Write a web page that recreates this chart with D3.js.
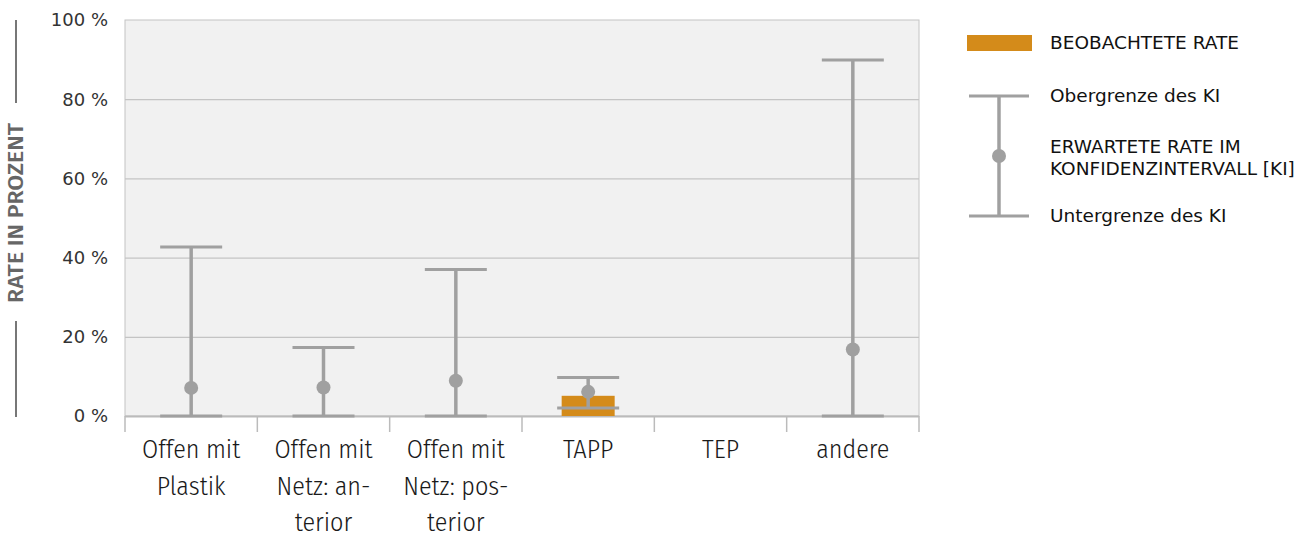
<!DOCTYPE html>
<html><head><meta charset="utf-8">
<script src="https://cdn.jsdelivr.net/npm/d3@7"></script>
<style>body{margin:0;background:#fff}svg{display:block}</style>
</head><body><svg id="c" width="1311" height="537"></svg>
<script>
const categories = [["Offen mit","Plastik"],["Offen mit","Netz: an-","terior"],["Offen mit","Netz: pos-","terior"],["TAPP"],["TEP"],["andere"]];
const categoryKeys = ["Offen mit Plastik","Offen mit Netz: anterior","Offen mit Netz: posterior","TAPP","TEP","andere"];
const observed = [null, null, null, 5.1, null, null];
const expected = [7.1, 7.2, 8.9, 6.1, null, 16.8];
const lowerCI = [0, 0, 0, 2.0, null, 0];
const upperCI = [42.7, 17.3, 37.0, 9.7, null, 89.9];
const yTicks = [0, 20, 40, 60, 80, 100];

const svg = d3.select("#c");
const L = 125, R = 919, T = 20, B = 416;
const x = d3.scaleBand().domain(categoryKeys).range([L, R]);
const y = d3.scaleLinear().domain([0, 100]).range([B, T]);
const gray = "#a0a0a0", grid = "#c4c4c4", orange = "#d48b1a";
const sans = "'DejaVu Sans', sans-serif";
const cond = "'Fira Sans Condensed', 'Roboto Condensed', sans-serif";

svg.append("rect").attr("x", L).attr("y", T).attr("width", R - L).attr("height", B - T).attr("fill", "#f1f1f1").attr("stroke", grid).attr("stroke-width", 1);
svg.append("g").selectAll("line").data(yTicks.filter(d => d > 0 && d < 100)).join("line")
  .attr("x1", L).attr("x2", R).attr("y1", d => y(d) + 0.5).attr("y2", d => y(d) + 0.5)
  .attr("stroke", grid).attr("stroke-width", 1.2);

// y labels
svg.append("g").selectAll("text").data(yTicks).join("text")
  .attr("x", 108).attr("y", d => y(d)).attr("dy", "0.35em").attr("text-anchor", "end")
  .attr("font-family", sans).attr("font-size", 18).attr("fill", "#333")
  .text(d => d + " %");

// x axis
svg.append("line").attr("x1", L).attr("x2", R).attr("y1", B + 0.5).attr("y2", B + 0.5).attr("stroke", "#bbb").attr("stroke-width", 2);
const bounds = categoryKeys.map(k => x(k)).concat([R]);
svg.append("g").selectAll("line").data(bounds).join("line")
  .attr("x1", d => d).attr("x2", d => d).attr("y1", B).attr("y2", 432).attr("stroke", "#bbb").attr("stroke-width", 1.5);

const lab = svg.append("g").selectAll("text").data(categoryKeys).join("text")
  .attr("x", d => x(d) + x.bandwidth() / 2).attr("text-anchor", "middle")
  .attr("font-family", cond).attr("font-weight", 300)
  .attr("font-size", 26).attr("fill", "#1a1a1a");
lab.each(function(d, i) {
  d3.select(this).selectAll("tspan").data(categories[i]).join("tspan")
    .attr("x", x(d) + x.bandwidth() / 2).attr("y", (t, j) => 458 + j * 36.5).text(t => t);
});

// bars
const bw = 53, cw = 62;
svg.append("g").selectAll("rect").data(categoryKeys.filter((k, i) => observed[i] != null)).join("rect")
  .attr("x", d => x(d) + x.bandwidth() / 2 - bw / 2)
  .attr("y", d => y(observed[categoryKeys.indexOf(d)]))
  .attr("width", bw)
  .attr("height", d => B - y(observed[categoryKeys.indexOf(d)]))
  .attr("fill", orange);

// whiskers
const idx = categoryKeys.map((k, i) => i).filter(i => expected[i] != null);
const cx = i => x(categoryKeys[i]) + x.bandwidth() / 2;
const w = svg.append("g");
w.selectAll(".v").data(idx).join("line").attr("x1", cx).attr("x2", cx)
  .attr("y1", i => y(lowerCI[i])).attr("y2", i => y(upperCI[i])).attr("stroke", gray).attr("stroke-width", 3.5);
w.selectAll(".u").data(idx).join("line").attr("x1", i => cx(i) - cw / 2).attr("x2", i => cx(i) + cw / 2)
  .attr("y1", i => y(upperCI[i])).attr("y2", i => y(upperCI[i])).attr("stroke", gray).attr("stroke-width", 3);
w.selectAll(".l").data(idx).join("line").attr("x1", i => cx(i) - cw / 2).attr("x2", i => cx(i) + cw / 2)
  .attr("y1", i => y(lowerCI[i])).attr("y2", i => y(lowerCI[i])).attr("stroke", gray).attr("stroke-width", 3);
w.selectAll("circle").data(idx).join("circle").attr("cx", cx).attr("cy", i => y(expected[i])).attr("r", 7).attr("fill", gray);

// y title
svg.append("line").attr("x1", 16).attr("x2", 16).attr("y1", 20).attr("y2", 103).attr("stroke", "#777").attr("stroke-width", 2);
svg.append("line").attr("x1", 16).attr("x2", 16).attr("y1", 321).attr("y2", 417).attr("stroke", "#777").attr("stroke-width", 2);
svg.append("text").attr("transform", "translate(23,213) rotate(-90)").attr("text-anchor", "middle")
  .attr("font-family", cond).attr("font-weight", 500)
  .attr("font-size", 21).attr("fill", "#666")
  .attr("textLength", 180).attr("lengthAdjust", "spacingAndGlyphs").text("RATE IN PROZENT");

// legend
const lg = svg.append("g").attr("font-family", sans).attr("font-size", 18.5).attr("fill", "#111");
lg.append("rect").attr("x", 967).attr("y", 35).attr("width", 65).attr("height", 16).attr("fill", orange);
lg.append("line").attr("x1", 969).attr("x2", 1029).attr("y1", 96).attr("y2", 96).attr("stroke", gray).attr("stroke-width", 3);
lg.append("line").attr("x1", 969).attr("x2", 1029).attr("y1", 216).attr("y2", 216).attr("stroke", gray).attr("stroke-width", 3);
lg.append("line").attr("x1", 999).attr("x2", 999).attr("y1", 96).attr("y2", 216).attr("stroke", gray).attr("stroke-width", 3.5);
lg.append("circle").attr("cx", 999).attr("cy", 156).attr("r", 7).attr("fill", gray);
const lt = [["BEOBACHTETE RATE", 43], ["Obergrenze des KI", 96], ["ERWARTETE RATE IM", 147], ["KONFIDENZINTERVALL [KI]", 169], ["Untergrenze des KI", 216]];
lg.selectAll("text").data(lt).join("text").attr("x", 1050).attr("y", d => d[1]).attr("dy", "0.35em").text(d => d[0]);
</script></body></html>
